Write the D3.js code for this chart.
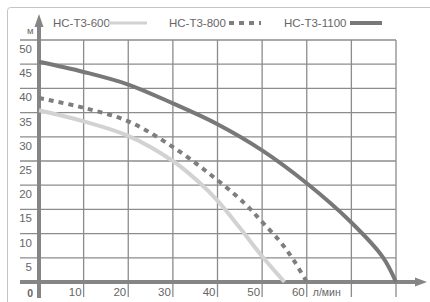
<!DOCTYPE html>
<html>
<head>
  <script src="https://d3js.org/d3.v7.min.js"></script>
  <style>
    body { margin: 0; background: #fff; }
    text { font-family: "Liberation Sans", Arial, sans-serif; fill: #666; }
  </style>
</head>
<body>
  <script>
    // pump curves: flow (л/мин) vs head (м)
    const seriesNames = ["HC-T3-600", "HC-T3-800", "HC-T3-1100"];
    const q600 = [0, 10, 20, 30, 36, 40, 45, 50, 55];
    const h600 = [35.5, 33.2, 30.2, 25, 20.5, 16.8, 11.2, 5.3, 0];
    const q800 = [0, 10, 20, 29, 38, 46, 50, 54, 57, 60];
    const h800 = [38, 36, 33.2, 28.5, 22.5, 16.3, 12.4, 8.4, 4.6, 0];
    const q1100 = [0, 10, 20, 30, 40, 50, 60, 70, 77, 80];
    const h1100 = [45.5, 43.4, 40.8, 36.9, 32.6, 27.2, 20.4, 12.3, 5.2, 0];

    const xTicks = [10, 20, 30, 40, 50, 60];
    const yTicks = [5, 10, 15, 20, 25, 30, 35, 40, 45, 50];
    const xGrid = [10, 20, 30, 40, 50, 60, 70, 80];

    const w = 430;
    const h = 302;

    const xScale = d3.scaleLinear().domain([0, 80]).range([39, 396]);
    const yScale = d3.scaleLinear().domain([0, 50]).range([282, 40]);

    const svg = d3.select("body")
      .append("svg")
      .attr("width", w)
      .attr("height", h);

    // outer frame (only top/left show)
    svg.append("rect")
      .attr("x", 7.5).attr("y", 7.5)
      .attr("width", 440).attr("height", 320)
      .attr("rx", 3)
      .attr("fill", "#fff")
      .attr("stroke", "#c4c4c4");

    const gridColor = "#8c8c8c";

    // horizontal grid
    svg.selectAll(".hgrid")
      .data(yTicks)
      .enter()
      .append("line")
      .attr("x1", 20).attr("x2", xScale(80))
      .attr("y1", d => yScale(d)).attr("y2", d => yScale(d))
      .attr("stroke", gridColor)
      .attr("stroke-width", 1.3);

    // vertical grid
    svg.selectAll(".vgrid")
      .data(xGrid)
      .enter()
      .append("line")
      .attr("x1", d => xScale(d)).attr("x2", d => xScale(d))
      .attr("y1", yScale(50)).attr("y2", 297)
      .attr("stroke", gridColor)
      .attr("stroke-width", 1.3);

    // axes with arrows
    const axisColor = "#858585";
    svg.append("line")
      .attr("x1", 20).attr("x2", 418)
      .attr("y1", yScale(0)).attr("y2", yScale(0))
      .attr("stroke", axisColor).attr("stroke-width", 4);
    svg.append("path")
      .attr("d", `M${427},${yScale(0)} L${415},${yScale(0) - 4.5} L${415},${yScale(0) + 4.5} Z`)
      .attr("fill", axisColor);

    svg.append("line")
      .attr("x1", xScale(0)).attr("x2", xScale(0))
      .attr("y1", 298).attr("y2", 26)
      .attr("stroke", axisColor).attr("stroke-width", 4);
    svg.append("path")
      .attr("d", `M${xScale(0)},${14} L${xScale(0) - 4.5},${27} L${xScale(0) + 4.5},${27} Z`)
      .attr("fill", axisColor);

    // tick labels
    svg.selectAll(".ylab")
      .data(yTicks)
      .enter()
      .append("text")
      .attr("x", 32)
      .attr("y", d => yScale(d) + 13)
      .attr("text-anchor", "end")
      .attr("font-size", 11.5)
      .text(d => d);

    svg.append("text")
      .attr("x", 33).attr("y", 297)
      .attr("text-anchor", "end")
      .attr("font-size", 10.5)
      .attr("font-weight", "bold")
      .text("0");

    svg.selectAll(".xlab")
      .data(xTicks)
      .enter()
      .append("text")
      .attr("x", d => xScale(d) - 2)
      .attr("y", 296)
      .attr("text-anchor", "end")
      .attr("font-size", 11.5)
      .text(d => d);

    svg.append("text")
      .attr("x", xScale(60) + 6).attr("y", 296)
      .attr("font-size", 10.5)
      .text("л/мин");

    svg.append("text")
      .attr("x", 27).attr("y", 34)
      .attr("font-size", 9.5)
      .text("м");

    // curves
    const line = d3.line()
      .x(d => xScale(d[0]))
      .y(d => yScale(d[1]))
      .curve(d3.curveCatmullRom.alpha(0.5));

    const styles = [
      { color: "#d2d2d2", dash: null },
      { color: "#7e7e7e", dash: "5,5" },
      { color: "#787878", dash: null }
    ];
    const curves = [
      d3.zip(q600, h600),
      d3.zip(q800, h800),
      d3.zip(q1100, h1100)
    ];

    curves.forEach((pts, i) => {
      svg.append("path")
        .attr("d", line(pts))
        .attr("fill", "none")
        .attr("stroke", styles[i].color)
        .attr("stroke-width", 4)
        .attr("stroke-dasharray", styles[i].dash);
    });

    // legend
    const legendText = [53, 169, 284];
    const legendSwatch = [[108, 147], [229, 261], [350, 382]];
    seriesNames.forEach((name, i) => {
      svg.append("text")
        .attr("x", legendText[i]).attr("y", 27)
        .attr("font-size", 11.5)
        .text(name);
      svg.append("line")
        .attr("x1", legendSwatch[i][0]).attr("x2", legendSwatch[i][1])
        .attr("y1", 23).attr("y2", 23)
        .attr("stroke", styles[i].color)
        .attr("stroke-width", i == 0 ? 3 : 4)
        .attr("stroke-dasharray", styles[i].dash);
    });
  </script>
</body>
</html>
